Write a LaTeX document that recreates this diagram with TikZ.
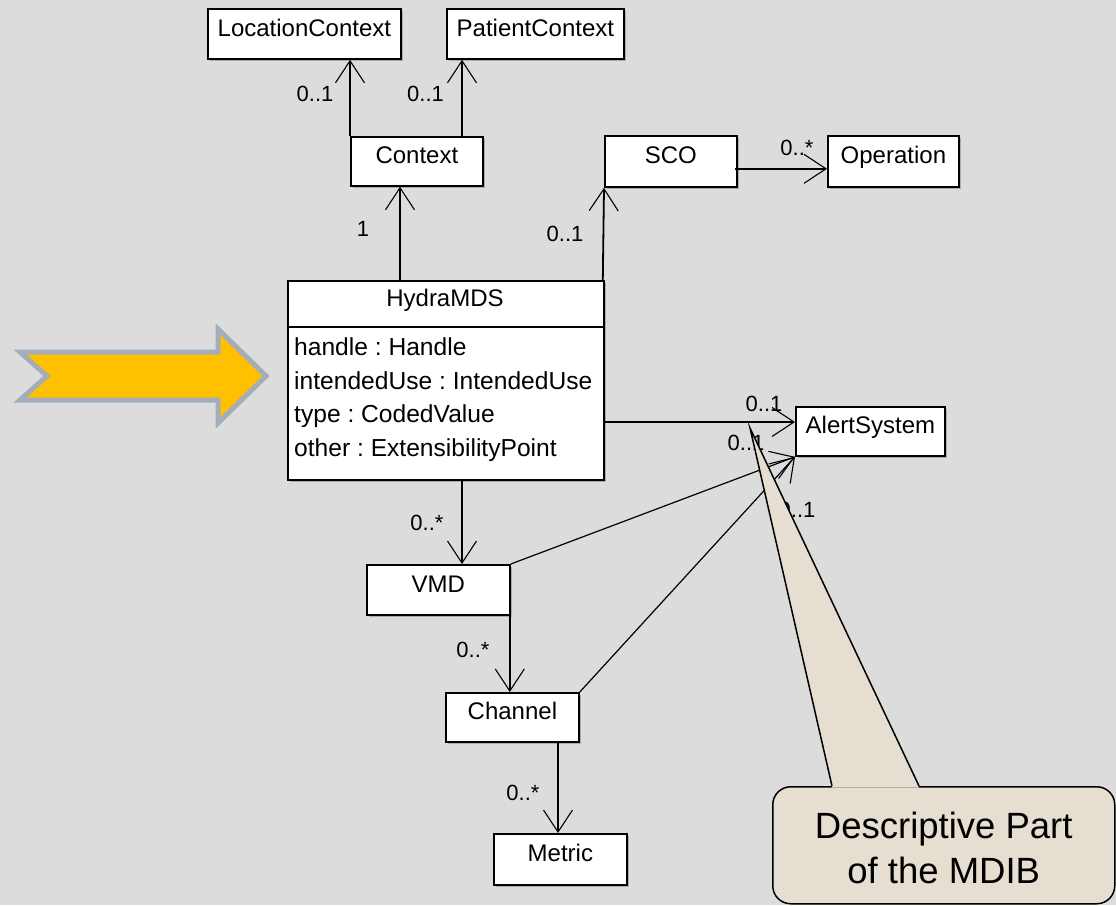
\documentclass[tikz,border=0pt]{standalone}
\usepackage{fontspec}
\setmainfont{Liberation Sans}
\usetikzlibrary{arrows.meta,shadows}
\definecolor{slidebg}{RGB}{220,220,220}
\definecolor{pointerfill}{RGB}{255,192,0}
\definecolor{pointeredge}{RGB}{164,174,186}
\definecolor{notefill}{RGB}{230,222,208}
\frenchspacing
\begin{document}
\begin{tikzpicture}[x=1pt,y=-1pt,
  umlbox/.style={draw=black, line width=1.8pt, fill=white, anchor=north west,
    inner sep=0pt, font=\fontsize{24}{28}\selectfont,
    text height=17pt, text depth=12pt,
    drop shadow={shadow xshift=2pt,shadow yshift=-2pt,fill=black,opacity=0.22}},
  umltext/.style={inner sep=0pt, anchor=base, font=\fontsize{24}{28}\selectfont},
  attrtext/.style={inner sep=0pt, anchor=base west, font=\fontsize{24.6}{28}\selectfont},
  mult/.style={inner sep=0pt, anchor=base, font=\fontsize{22}{26}\selectfont},
  assoc/.style={line width=1.8pt,
    -{Straight Barb[length=22pt,width=29pt,line width=1.1pt]}},
  thinassoc/.style={line width=1.2pt,
    -{Straight Barb[length=22pt,width=29pt,line width=1.1pt]}},
  notebox/.style={draw=black, line width=1.5pt, fill=notefill, rounded corners=18pt,
    anchor=north west, align=center, inner sep=0pt,
    font=\fontsize{36.5}{45}\selectfont}
]
% slide background
\useasboundingbox (0,0) rectangle (1116,905);
\fill[slidebg] (0,0) rectangle (1116,905);

% highlight arrow on the left
\filldraw[fill=pointerfill, draw=pointeredge, line width=5pt, line join=miter]
  (20,352) -- (218,352) -- (218,329) -- (266,376) -- (218,423)
  -- (218,400) -- (20,400) -- (47,376) -- cycle;

% classes
\node[umlbox, minimum width=193, minimum height=50] (loc) at (207,8) {LocationContext};
\node[umlbox, minimum width=177, minimum height=50] (pat) at (446,8) {PatientContext};
\node[umlbox, minimum width=132, minimum height=49] (ctx) at (350,136) {Context};
\node[umlbox, minimum width=132, minimum height=51] (sco) at (604,135) {SCO};
\node[umlbox, minimum width=131, minimum height=51] (op) at (827,135) {Operation};
\node[umlbox, minimum width=316, minimum height=199] (hydra) at (287,280) {};
\node[umlbox, minimum width=149, minimum height=49] (alert) at (795,406) {AlertSystem};
\node[umlbox, minimum width=143, minimum height=50] (vmd) at (366,564) {VMD};
\node[umlbox, minimum width=133, minimum height=49] (chan) at (445,692) {Channel};
\node[umlbox, minimum width=133, minimum height=51] (metric) at (493,833) {Metric};

% HydraMDS compartments
\node[umltext] (hydraname) at (445,306.5) {HydraMDS};
\draw[line width=1.8pt] ([yshift=-47pt]hydra.north west) -- ([yshift=-47pt]hydra.north east);
\node[attrtext] (attr1) at (294,355.5) {handle : Handle};
\node[attrtext] (attr2) at (294,389) {intendedUse : IntendedUse};
\node[attrtext] (attr3) at (294,422.5) {type : CodedValue};
\node[attrtext] (attr4) at (294,456) {other : ExtensibilityPoint};

% attachment points of the associations
\coordinate (scoout) at ([shift={(-3pt,19pt)}]sco.south east);
\coordinate (alertin) at ([yshift=-16pt]alert.north west);
\coordinate (ctxlocout) at (ctx.north west);
\coordinate (ctxpatout) at ([xshift=112pt]ctx.north west);
\coordinate (hydractx) at ([xshift=113pt]hydra.north west);
\coordinate (hydrasco) at ([xshift=-2pt]hydra.north east);
\coordinate (hydravmd) at ([xshift=175pt]hydra.south west);
\coordinate (vmdchan) at ([xshift=-1pt]vmd.south east);
\coordinate (chanmetric) at ([xshift=113pt]chan.south west);

% associations
\draw[assoc] (ctxlocout) -- (ctxlocout |- loc.south);
\draw[assoc] (ctxpatout) -- (ctxpatout |- pat.south);
\draw[assoc] (hydractx) -- (hydractx |- ctx.south);
\draw[assoc] (hydrasco) -- (sco.south west);
\draw[assoc] (scoout) -- (op.west |- scoout);
\draw[assoc] (hydra.east |- alertin) -- (alertin);
\draw[assoc] (hydravmd) -- (hydravmd |- vmd.north);
\draw[thinassoc] (vmd.north east) -- (alert.south west);
\draw[assoc] (vmdchan) -- (vmdchan |- chan.north);
\draw[thinassoc] (chan.north east) -- (alert.south west);
\draw[assoc] (chanmetric) -- (chanmetric |- metric.north);

% multiplicities
\node[mult] (m1) at (315,101.5) {0..1};
\node[mult] (m2) at (425.5,101.5) {0..1};
\node[mult] (m3) at (363,236) {1};
\node[mult] (m4) at (565,241) {0..1};
\node[mult] (m5) at (797,155) {0..*};
\node[mult] (m6) at (764,411.5) {0..1};
\node[mult] (m7) at (746,450) {0..1};
\node[mult] (m8) at (797,517) {0..1};
\node[mult] (m9) at (427,530) {0..*};
\node[mult] (m10) at (473,657) {0..*};
\node[mult] (m11) at (523,800) {0..*};

% callout note
\node[notebox, minimum width=342, minimum height=117] (note) at (772,786)
  {\strut Descriptive Part\\of the MDIB};
\coordinate (tip) at (750,428);
\coordinate (baseL) at ([xshift=60pt]note.north west);
\coordinate (baseR) at ([xshift=147pt]note.north west);
\fill[notefill] ([yshift=-1.5pt]baseL) -- (tip) -- ([yshift=-1.5pt]baseR) -- cycle;
\draw[line width=1.5pt, line join=miter] (baseL) -- (tip) -- (baseR);
\end{tikzpicture}
\end{document}
